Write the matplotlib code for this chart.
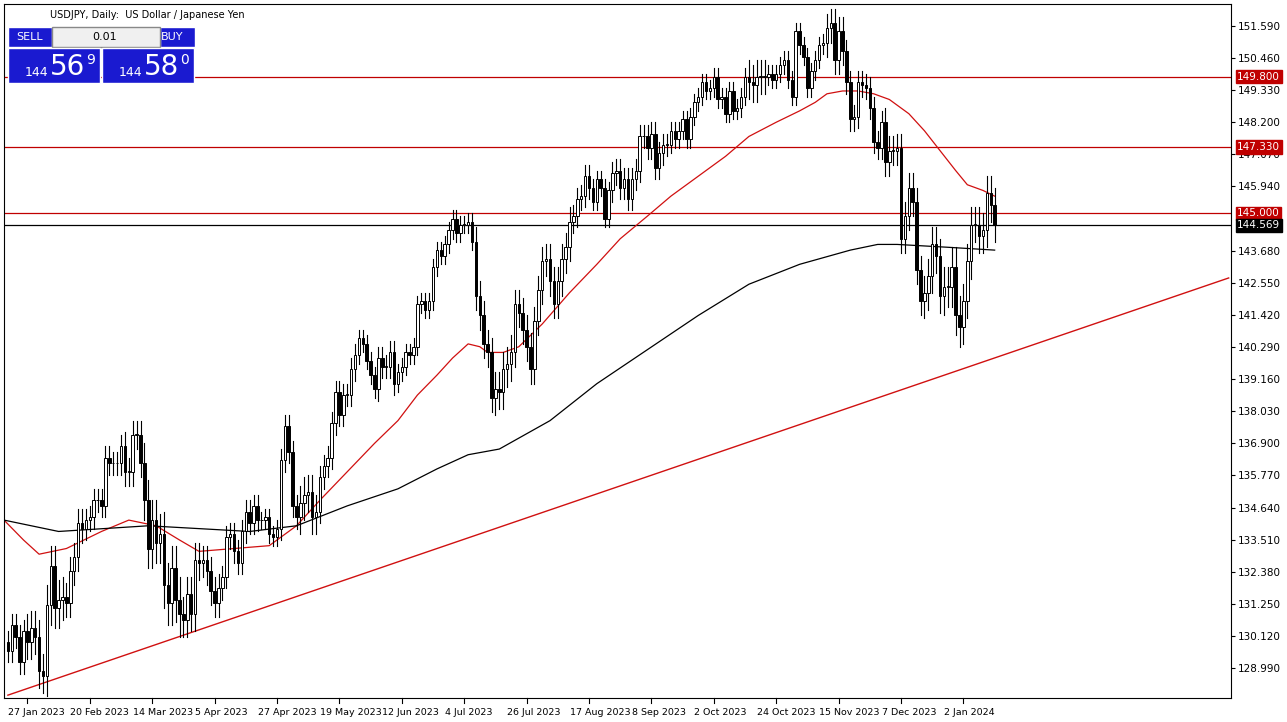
import numpy as np
import pandas as pd
import matplotlib.pyplot as plt
from matplotlib.patches import Rectangle

# daily closes, week by week (first bar 20 Jan 2023)
closes = [
    129.6,
    130.5, 130.1, 129.2, 130.3, 129.9,
    130.4, 130.1, 128.9, 128.7, 131.2,
    132.6, 131.1, 131.4, 131.5, 131.3,
    132.4, 132.9, 134.1, 133.9, 134.2,
    134.3, 134.9, 134.9, 134.7, 136.4,
    136.2, 136.2, 136.2, 136.8, 135.9,
    135.9, 137.2, 137.2, 136.2, 134.9,
    133.2, 134.2, 133.4, 133.7, 131.9,
    131.3, 132.5, 131.4, 130.9, 130.7,
    131.6, 130.9, 132.8, 132.7, 132.8,
    132.4, 131.7, 131.3, 131.8, 132.2,
    133.6, 133.7, 133.1, 132.7, 133.8,
    134.5, 134.1, 134.7, 134.2, 134.2,
    134.3, 133.7, 133.6, 133.9, 136.3,
    137.5, 136.6, 134.7, 134.3, 134.8,
    135.1, 135.2, 134.3, 134.5, 135.7,
    136.1, 136.4, 137.6, 138.7, 137.9,
    138.6, 138.6, 139.5, 140.0, 140.6,
    140.4, 139.8, 139.3, 138.8, 139.9,
    139.6, 139.6, 140.1, 139.0, 139.4,
    139.6, 140.1, 140.0, 140.3, 141.8,
    141.9, 141.6, 141.9, 143.1, 143.7,
    143.5, 143.9, 144.4, 144.8, 144.3,
    144.6, 144.6, 144.7, 144.0, 142.1,
    141.4, 140.4, 140.1, 138.5, 138.8,
    138.7, 139.5, 139.7, 140.1, 141.8,
    141.5, 140.9, 140.3, 139.5, 141.2,
    142.3, 143.3, 143.4, 142.6, 141.8,
    142.6, 143.4, 143.8, 144.7, 144.9,
    145.5, 145.6, 146.3, 145.9, 145.4,
    146.2, 145.9, 144.8, 145.8, 146.4,
    146.5, 145.9, 146.2, 145.5, 146.2,
    146.5, 147.7, 147.7, 147.3, 147.8,
    146.6, 147.1, 147.4, 147.4, 147.9,
    147.6, 147.9, 148.3, 147.6, 148.4,
    148.9, 149.1, 149.6, 149.3, 149.4,
    149.8, 149.0, 149.1, 148.5, 149.3,
    148.6, 148.7, 149.1, 149.8, 149.6,
    149.5, 149.8, 149.8, 149.8, 149.9,
    149.7, 149.9, 150.2, 150.4, 149.7,
    149.1, 151.4, 150.9, 150.5, 149.4,
    150.0, 150.4, 150.9, 151.0, 151.5,
    151.7, 150.4, 151.4, 150.7, 149.6,
    148.3, 148.4, 149.6, 149.5, 149.4,
    148.7, 147.5, 147.3, 148.2, 146.8,
    147.2, 147.2, 147.3, 144.1, 144.9,
    145.9, 145.4, 143.0, 141.9, 142.2,
    142.8, 143.9, 143.5, 142.1, 142.4,
    142.4, 143.1, 141.4, 141.0,
    141.9, 143.3, 144.6, 144.6,
    144.2, 144.4, 145.7, 145.3, 144.57,
]
first_open = 129.9
# typical wick length per week
week_wick = [0.4, 0.6, 0.7, 0.5, 0.4, 0.4, 0.5, 0.7, 0.8, 0.6, 0.5, 0.4, 0.4, 0.3,
             0.4, 0.6, 0.4, 0.4, 0.3, 0.4, 0.3, 0.3, 0.3, 0.3, 0.5, 0.6, 0.5, 0.5,
             0.5, 0.4, 0.3, 0.4, 0.4, 0.4, 0.3, 0.3, 0.3, 0.3, 0.6, 0.3, 0.3, 0.3,
             0.5, 0.4, 0.4, 0.5, 0.5, 0.6, 0.7, 0.6, 0.6, 0.6, 0.6]

# moving averages: (bar index, value)
ma50_idx = [-1, 4, 8, 15, 24, 31, 38, 44, 49, 58, 67, 74, 80, 87, 94, 100, 105, 110, 114, 118, 121, 123,
            127, 131, 137, 144, 151, 157, 164, 170, 177, 184, 190, 197, 203, 207, 210, 214, 218, 222,
            226, 231, 235, 239, 243, 246, 250, 253]
ma50_val = [134.2, 133.5, 133.0, 133.2, 133.8, 134.2, 134.0, 133.5, 133.1, 133.2, 133.3, 134.0, 134.9,
            135.9, 136.9, 137.7, 138.6, 139.3, 139.9, 140.4, 140.3, 140.1, 140.1, 140.3, 141.1, 142.2,
            143.2, 144.1, 144.9, 145.6, 146.3, 147.0, 147.7, 148.2, 148.6, 148.9, 149.2, 149.3, 149.3,
            149.2, 149.0, 148.5, 147.9, 147.2, 146.5, 146.0, 145.8, 145.6]
ma200_idx = [-1, 13, 36, 62, 74, 87, 100, 110, 118, 126, 139, 151, 164, 177, 190, 203, 216, 223, 228, 241, 253]
ma200_val = [134.2, 133.8, 134.0, 133.8, 134.0, 134.7, 135.3, 136.0, 136.5, 136.7, 137.7, 139.0, 140.2,
             141.4, 142.5, 143.2, 143.7, 143.9, 143.9, 143.8, 143.7]

levels = [149.800, 147.330, 145.000]
last_price = 144.569
trend_idx = [0, 313]
trend_val = [128.04, 142.72]
yticks = [151.590, 150.460, 149.330, 148.200, 147.070, 145.940, 143.680, 142.550, 141.420,
          140.290, 139.160, 138.030, 136.900, 135.770, 134.640, 133.510, 132.380, 131.250,
          130.120, 128.990]
date_labels = ['27 Jan 2023', '20 Feb 2023', '14 Mar 2023', '5 Apr 2023', '27 Apr 2023',
               '19 May 2023', '12 Jun 2023', '4 Jul 2023', '26 Jul 2023', '17 Aug 2023',
               '8 Sep 2023', '2 Oct 2023', '24 Oct 2023', '15 Nov 2023', '7 Dec 2023', '2 Jan 2024']

dates = pd.bdate_range('2023-01-20', '2024-01-12')
dates = dates[~dates.isin(pd.to_datetime(['2023-12-25', '2024-01-01']))]
n = len(closes)
dates = dates[:n]
opens = [first_open] + closes[:-1]

fig = plt.figure(figsize=(12.87, 7.22), dpi=100)
ax = fig.add_axes([4 / 1287, 24 / 722, 1227 / 1287, 694 / 722])
ax.set_xlim(-1, 313.6)
ax.set_ylim(127.94, 152.36)

for i in range(n):
    o, c = opens[i], closes[i]
    w = week_wick[min(i // 5, len(week_wick) - 1)]
    hi, lo = max(o, c) + w, min(o, c) - w
    ax.plot([i, i], [lo, hi], color='black', lw=0.8, zorder=3)
    ax.add_patch(Rectangle((i - 0.32, min(o, c)), 0.64, max(abs(c - o), 0.02),
                           facecolor='white' if c >= o else 'black', edgecolor='black',
                           lw=0.7, zorder=4))

ax.plot(ma50_idx, ma50_val, color='#d01010', lw=0.9, zorder=2)
ax.plot(ma200_idx, ma200_val, color='black', lw=0.9, zorder=2)
ax.plot(trend_idx, trend_val, color='#d01010', lw=1.0, zorder=2)
for lv in levels:
    ax.axhline(lv, color='#c00000', lw=0.9, zorder=1)
ax.axhline(last_price, color='black', lw=0.9, zorder=1)

ax.yaxis.tick_right()
ax.set_yticks(yticks)
ax.set_yticklabels(['%.3f' % v for v in yticks], fontsize=7.5)
ax.tick_params(axis='y', length=3, pad=2)
ax.set_xticks([])
for lab in date_labels:
    d = pd.Timestamp(lab)
    idx = int(np.searchsorted(dates, d))
    ax.plot([idx, idx], [127.94, 127.75], color='black', lw=0.8, clip_on=False)
    ax.text(idx - 5, 127.6, lab, fontsize=6.8, ha='left', va='top')

for lv in levels:
    ax.text(1.005, (lv - 127.94) / (152.36 - 127.94), '%.3f' % lv, transform=ax.transAxes,
            fontsize=7.5, color='white', va='center', ha='left',
            bbox=dict(boxstyle='square,pad=0.15', fc='#c00000', ec='#c00000'))
ax.text(1.005, (last_price - 127.94) / (152.36 - 127.94), '%.3f' % last_price,
        transform=ax.transAxes, fontsize=7.5, color='white', va='center', ha='left',
        bbox=dict(boxstyle='square,pad=0.15', fc='black', ec='black'))

fig.text(50 / 1287, 1 - 15 / 722, 'USDJPY, Daily:  US Dollar / Japanese Yen', fontsize=7, va='center')

# trade panel
blue = '#1a1ad0'
for x0, w0 in [(8, 44), (160, 35)]:
    fig.patches.append(Rectangle((x0 / 1287, 1 - 47 / 722), w0 / 1287, 20 / 722, transform=fig.transFigure,
                                 fc=blue, ec='white'))
fig.patches.append(Rectangle((52 / 1287, 1 - 47 / 722), 108 / 1287, 20 / 722, transform=fig.transFigure,
                             fc='#f0f0f0', ec='#888888'))
fig.text(30 / 1287, 1 - 37 / 722, 'SELL', color='white', fontsize=8, ha='center', va='center')
fig.text(172 / 1287, 1 - 37 / 722, 'BUY', color='white', fontsize=8, ha='center', va='center')
fig.text(105 / 1287, 1 - 37 / 722, '0.01', fontsize=8, ha='center', va='center')
for x0, big, sup in [(8, '56', '9'), (102, '58', '0')]:
    fig.patches.append(Rectangle((x0 / 1287, 1 - 83 / 722), 92 / 1287, 35 / 722, transform=fig.transFigure,
                                 fc=blue, ec='white'))
    fig.text((x0 + 17) / 1287, 1 - 72 / 722, '144', color='white', fontsize=9, va='center')
    fig.text((x0 + 42) / 1287, 1 - 67 / 722, big, color='white', fontsize=20, va='center')
    fig.text((x0 + 78) / 1287, 1 - 60 / 722, sup, color='white', fontsize=10, va='center')

fig.savefig('out.png', dpi=100)
